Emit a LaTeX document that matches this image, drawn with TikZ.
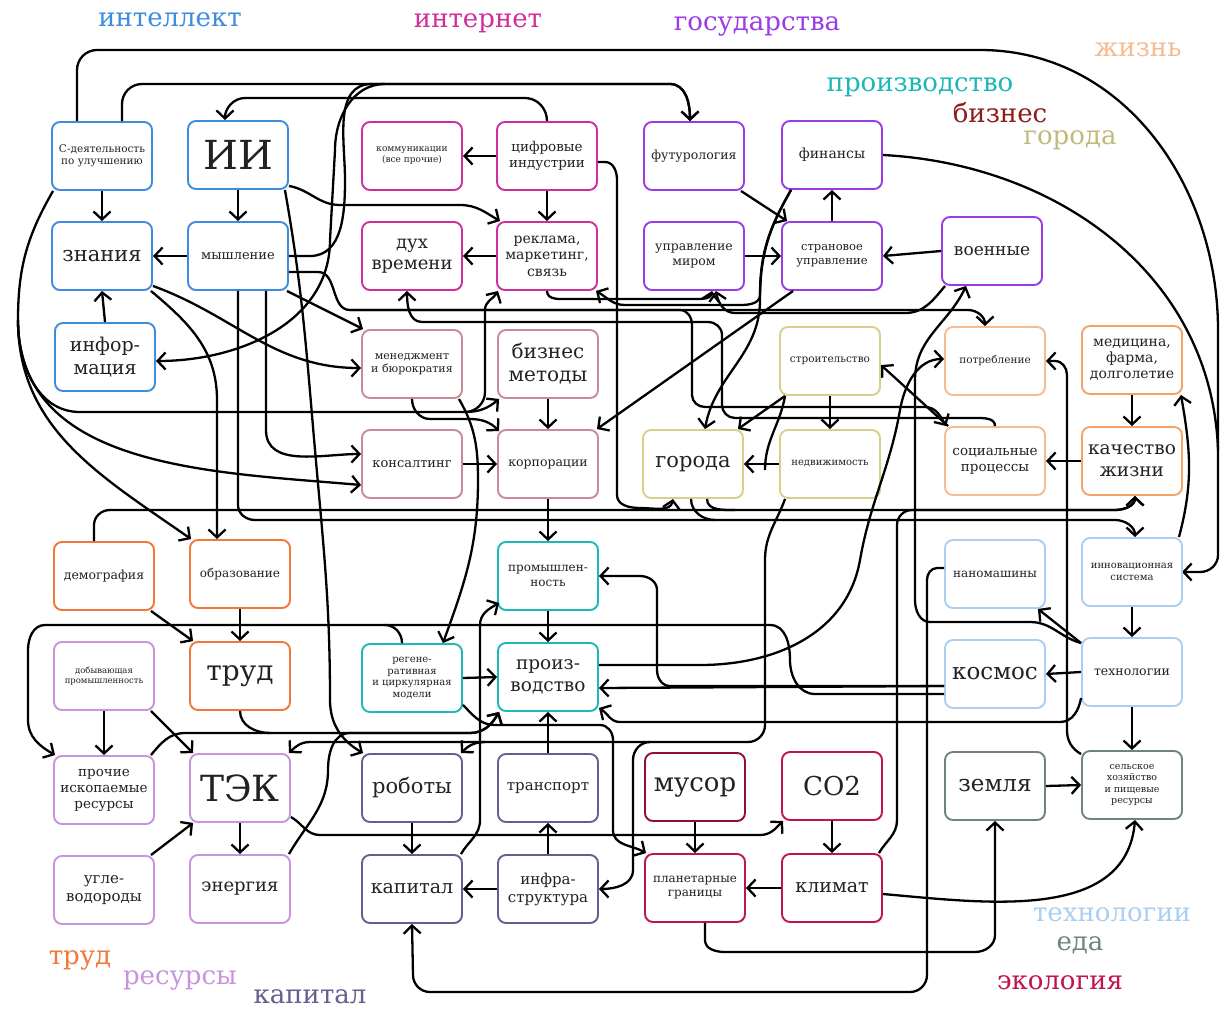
\documentclass[tikz,border=0pt]{standalone}
\usepackage{fontspec}
\setmainfont{DejaVu Serif}
\usetikzlibrary{arrows.meta}
\definecolor{blueI}{HTML}{3C8DDE}
\definecolor{mag}{HTML}{D02E9E}
\definecolor{purp}{HTML}{9A3BE6}
\definecolor{lifel}{HTML}{F5BC92}
\definecolor{lifed}{HTML}{F2A468}
\definecolor{tealc}{HTML}{1CB8B8}
\definecolor{bizc}{HTML}{C98A95}
\definecolor{bizt}{HTML}{8E1B1B}
\definecolor{khaki}{HTML}{D8CF8A}
\definecolor{techc}{HTML}{AACFF0}
\definecolor{foodc}{HTML}{6F8577}
\definecolor{ecoc}{HTML}{C0144A}
\definecolor{ecod}{HTML}{8E1035}
\definecolor{trudc}{HTML}{F07838}
\definecolor{resc}{HTML}{C894DC}
\definecolor{capc}{HTML}{6A5C8E}
\definecolor{txt}{HTML}{222222}
\newcommand\fz[2]{\fontsize{#1}{#2}\selectfont}
\tikzset{
  box/.style={draw, rounded corners=8pt, minimum width=100pt, minimum height=68pt, align=center, line width=1.9pt, text=txt, inner sep=1pt, fill=white},
  lbl/.style={font=\fz{26}{28}, inner sep=0pt},
  cn/.style={line width=2.3pt, black},
  ar/.style={cn, -{Straight Barb[length=8pt,width=17pt]}}
}
\begin{document}
\begin{tikzpicture}[x=1pt,y=-1pt]
\fill[white] (0,0) rectangle (1223,1010);
\useasboundingbox (0,0) rectangle (1223,1010);
% ---------- category labels
\node[lbl,text=blueI] (Lint) at (170,20) {интеллект};
\node[lbl,text=mag] (Lnet) at (478,23) {интернет};
\node[lbl,text=purp] (Lgos) at (757,26) {государства};
\node[lbl,text=lifel] (Lzh) at (1138,50) {жизнь};
\node[lbl,text=tealc] (Lpr) at (920,87) {производство};
\node[lbl,text=bizt] (Lbiz) at (1000,113) {бизнес};
\node[lbl,text=khaki!90!black] (Lgor) at (1070,140) {города};
\node[lbl,text=techc] (Ltech) at (1112,915) {технологии};
\node[lbl,text=foodc] (Leda) at (1080,945) {еда};
\node[lbl,text=ecoc] (Leco) at (1060,983) {экология};
\node[lbl,text=trudc] (Ltrud) at (80,960) {труд};
\node[lbl,text=resc] (Lres) at (180,980) {ресурсы};
\node[lbl,text=capc] (Lcap) at (310,997) {капитал};
% ---------- connectors first (boxes drawn on top later)
\begin{scope}
% top loops
\draw[ar] (77,122) -- (77,70) to[out=90,in=180] (97,50) -- (980,50) to[out=0,in=90] (1218,330) -- (1218,555) to[out=-90,in=0] (1200,572) -- (1182,572);
\end{scope}
% ---------- boxes
\node[box,draw=blueI,font=\fz{10.5}{12}] (sd) at (102,156) {С-деятельность\\по улучшению};
\node[box,draw=blueI,font=\fz{40}{42}] (ii) at (238,155) {ИИ};
\node[box,draw=mag,font=\fz{9}{11}] (komm) at (412,156) {коммуникации\\(все прочие)};
\node[box,draw=mag,font=\fz{13.5}{15.5}] (cifr) at (547,156) {цифровые\\индустрии};
\node[box,draw=purp,font=\fz{12.5}{14}] (futu) at (694,156) {футурология};
\node[box,draw=purp,font=\fz{14}{16}] (fin) at (832,155) {финансы};
\node[box,draw=blueI,font=\fz{21}{23}] (zn) at (102,256) {знания};
\node[box,draw=blueI,font=\fz{13}{15}] (mysh) at (238,256) {мышление};
\node[box,draw=mag,font=\fz{18}{21}] (duh) at (412,256) {дух\\времени};
\node[box,draw=mag,font=\fz{14}{16.5}] (rekl) at (547,256) {реклама,\\маркетинг,\\связь};
\node[box,draw=purp,font=\fz{12.5}{15}] (upr) at (694,256) {управление\\миром};
\node[box,draw=purp,font=\fz{11.5}{14}] (stran) at (832,256) {страновое\\управление};
\node[box,draw=purp,font=\fz{17}{19}] (voen) at (992,251) {военные};
\node[box,draw=blueI,font=\fz{19}{23}] (inf) at (105,357) {инфор-\\мация};
\node[box,draw=bizc,font=\fz{11}{13}] (men) at (412,364) {менеджмент\\и бюрократия};
\node[box,draw=bizc,font=\fz{20}{23}] (biz) at (548,364) {бизнес\\методы};
\node[box,draw=khaki,font=\fz{10.5}{12}] (stroi) at (830,361) {строительство};
\node[box,draw=lifel,font=\fz{10.5}{12}] (potr) at (995,361) {потребление};
\node[box,draw=lifed,font=\fz{14}{16}] (med) at (1132,360) {медицина,\\фарма,\\долголетие};
\node[box,draw=bizc,font=\fz{13}{15}] (kons) at (412,464) {консалтинг};
\node[box,draw=bizc,font=\fz{12.5}{14}] (korp) at (548,464) {корпорации};
\node[box,draw=khaki,font=\fz{21}{23}] (gor) at (693,464) {города};
\node[box,draw=khaki,font=\fz{10}{12}] (nedv) at (830,464) {недвижимость};
\node[box,draw=lifel,font=\fz{13.5}{16}] (soc) at (995,461) {социальные\\процессы};
\node[box,draw=lifed,font=\fz{18.5}{22}] (kach) at (1132,461) {качество\\жизни};
\node[box,draw=trudc,font=\fz{12.5}{14}] (demo) at (104,576) {демография};
\node[box,draw=trudc,font=\fz{12}{14}] (obr) at (240,574) {образование};
\node[box,draw=tealc,font=\fz{12}{14.5}] (prom) at (548,576) {промышлен-\\ность};
\node[box,draw=techc,font=\fz{12}{14}] (nano) at (995,574) {наномашины};
\node[box,draw=techc,font=\fz{10}{12.5}] (innov) at (1132,572) {инновационная\\система};
\node[box,draw=resc,font=\fz{8.5}{10.5}] (dob) at (104,676) {добывающая\\промышленность};
\node[box,draw=trudc,font=\fz{28}{30}] (trud) at (240,676) {труд};
\node[box,draw=tealc,font=\fz{10}{11.5}] (reg) at (412,678) {регене-\\ративная\\и циркулярная\\модели};
\node[box,draw=tealc,font=\fz{18.5}{22}] (proizv) at (548,677) {произ-\\водство};
\node[box,draw=techc,font=\fz{23}{25}] (kosm) at (995,674) {космос};
\node[box,draw=techc,font=\fz{12.5}{14}] (tech) at (1132,672) {технологии};
\node[box,draw=resc,font=\fz{13.5}{16}] (proch) at (104,790) {прочие\\ископаемые\\ресурсы};
\node[box,draw=resc,font=\fz{36}{38}] (tek) at (240,788) {ТЭК};
\node[box,draw=capc,font=\fz{21}{23}] (rob) at (412,788) {роботы};
\node[box,draw=capc,font=\fz{15}{17}] (trans) at (548,788) {транспорт};
\node[box,draw=ecod,font=\fz{26}{28}] (mus) at (695,787) {мусор};
\node[box,draw=ecoc,font=\fz{26}{28}] (co2) at (832,786) {CO2};
\node[box,draw=foodc,font=\fz{23}{25}] (zem) at (995,786) {земля};
\node[box,draw=foodc,font=\fz{9.5}{11.5}] (selh) at (1132,785) {сельское\\хозяйство\\и пищевые\\ресурсы};
\node[box,draw=resc,font=\fz{15}{18}] (ugl) at (104,890) {угле-\\водороды};
\node[box,draw=resc,font=\fz{18}{20}] (ener) at (240,889) {энергия};
\node[box,draw=capc,font=\fz{19}{21}] (kap) at (412,889) {капитал};
\node[box,draw=capc,font=\fz{15}{18}] (infra) at (548,889) {инфра-\\структура};
\node[box,draw=ecoc,font=\fz{12}{14}] (plan) at (695,888) {планетарные\\границы};
\node[box,draw=ecoc,font=\fz{19}{21}] (klim) at (832,888) {климат};
% ---------- straight connectors
\draw[ar] (sd.south) -- (zn.north);
\draw[ar] (ii.south) -- (mysh.north);
\draw[ar] (mysh.west) -- (zn.east);
\draw[ar] (inf.north) -- (zn.south);
\draw[ar] (cifr.west) -- (komm.east);
\draw[ar] (cifr.south) -- (rekl.north);
\draw[ar] (rekl.west) -- (duh.east);
\draw[ar] (stran.north) -- (fin.south);
\draw[ar] (voen.west) -- (stran.east);
\draw[ar] (upr.east) -- (stran.west);
\draw[ar] ([xshift=-4]futu.south east) -- ([xshift=6]stran.north west);
\draw[ar] ([xshift=12]stran.south west) -- ([xshift=-2]korp.north east);
\draw[ar] (tech.west) -- (kosm.east);
\draw[ar] (innov.south) -- (tech.north);
\draw[ar] (med.south) -- (kach.north);
\draw[ar] (kach.west) -- (soc.east);
\draw[ar] (tech.south) -- (selh.north);
\draw[ar] (zem.east) -- (selh.west);
\draw[ar] (klim.west) -- (plan.east);
\draw[ar] (co2.south) -- (klim.north);
\draw[ar] (mus.south) -- (plan.north);
\draw[ar] (infra.north) -- (trans.south);
\draw[ar] (trans.north) -- (proizv.south);
\draw[ar] (infra.west) -- (kap.east);
\draw[ar] (rob.south) -- (kap.north);
\draw[ar] (prom.south) -- (proizv.north);
\draw[ar] (korp.south) -- (prom.north);
\draw[ar] (biz.south) -- (korp.north);
\draw[ar] (kons.east) -- (korp.west);
\draw[ar] (reg.east) -- (proizv.west);
\draw[ar] ([xshift=-4]demo.south east) -- ([xshift=4]trud.north west);
\draw[ar] (obr.south) -- (trud.north);
\draw[ar] (dob.south) -- (proch.north);
\draw[ar] ([xshift=-4]dob.south east) -- ([xshift=4]tek.north west);
\draw[ar] ([xshift=-4]ugl.north east) -- ([xshift=4]tek.south west);
\draw[ar] (tek.south) -- (ener.north);
\draw[ar] (nedv.west) -- (gor.east);
\draw[ar] (stroi.south) -- (nedv.north);
\draw[ar] ([xshift=6]stroi.south west) -- ([xshift=-6]gor.north east);
\draw[ar] ([xshift=4]soc.north west) -- ([yshift=-4]stroi.east);
\draw[ar] ([xshift=-2]mysh.south east) -- ([xshift=2]men.north west);
\draw[ar] ([yshift=-6]tech.north west) -- ([xshift=-8]nano.south east);
% ---------- curved connectors
\draw[cn] (fin.east) to[out=-3,in=92] (1218,450);
\draw[cn] ([xshift=-25]sd.north) -- (77,115);
\draw[ar] ([xshift=20]sd.north) -- (122,104) to[out=90,in=180] (142,84) -- (670,84) to[out=0,in=90] ([xshift=-4]futu.north);
\draw[ar] (mysh.east) -- (310,256) to[out=0,in=-90] (345,180) to[out=90,in=180] (372,84) -- (670,84) to[out=0,in=90] ([xshift=-4]futu.north);
\coordinate (j1) at (385,84);
\draw[ar] (j1) to[out=180,in=90] (335,150) -- (330,240) to[out=-90,in=0] ([yshift=-4]inf.east);
\draw[ar] (cifr.north) to[out=90,in=0] (525,98) -- (245,98) to[out=180,in=90] ([xshift=-13]ii.north);
\draw[ar] ([yshift=4]ii.south east) to[out=-10,in=180] (340,205) -- (460,205) to[out=0,in=150] ([xshift=4]rekl.north west);
% finance / government
\draw[ar] ([xshift=10]fin.south west) to[out=-120,in=90] (760,300) to[out=-90,in=80] ([xshift=12]gor.north);
\draw[ar] ([xshift=10]fin.south west) to[out=-120,in=90] (760,295) to[out=-90,in=0] (740,305) -- (625,305) to[out=180,in=-30] ([xshift=-2]rekl.south east);
\draw[ar] ([xshift=4]voen.south west) to[out=-130,in=0] (905,313) -- (735,313) to[out=180,in=-80] ([xshift=22]upr.south);
\draw[ar] (rekl.south) to[out=-90,in=180] (570,299) -- (690,299) to[out=0,in=-100] ([xshift=18]upr.south);
\draw[ar] ([yshift=-6]tech.north west) to[out=165,in=0] (1030,622) -- (930,622) to[out=180,in=-90] (915,600) -- (915,380) to[out=90,in=-115] ([xshift=-26]voen.south);
% thinking / knowledge lines
\draw[ar] ([yshift=-16]mysh.east) -- (318,272) to[out=0,in=180] (350,310) -- (968,310) to[out=0,in=90] ([xshift=-10]potr.north);
\draw[ar] (350,310) -- (680,310) to[out=0,in=90] (692,325) -- (692,395) to[out=-90,in=180] (705,407) -- (925,407) to[out=0,in=120] ([xshift=2]soc.north west);
\draw[ar] (soc.north) to[out=90,in=0] (975,418) -- (735,418) to[out=180,in=-90] (722,405) -- (722,335) to[out=90,in=0] (708,322) -- (422,322) to[out=180,in=-90] ([xshift=-5]duh.south);
\draw[ar] ([xshift=28]mysh.south) -- (266,430) to[out=-90,in=180] ([yshift=10]kons.west);
\draw[ar] ([xshift=-2]zn.south east) to[out=-40,in=90] (217,400) -- ([xshift=-23]obr.north);
\draw[ar] ([yshift=5]zn.south east) to[out=-20,in=180] ([yshift=-4]men.west);
\draw[ar] ([xshift=-4]ii.south east) to[out=-80,in=95] (315,450) to[out=-85,in=90] (330,700) to[out=-90,in=150] ([xshift=2]rob.north west);
\draw[ar] (mysh.south) -- (238,505) to[out=-90,in=180] (255,520) -- (1115,520) to[out=0,in=90] ([xshift=3]innov.north);
\draw[cn] ([xshift=-2]gor.south) to[out=-90,in=180] (715,520);
% left long curves from sd
\draw[ar] ([xshift=2]sd.south west) to[out=-120,in=90] (18,320) to[out=-90,in=175] ([yshift=-21]kons.west);
\draw[ar] (18,320) to[out=-90,in=145] ([xshift=2]obr.north west);
\draw[ar] (18,320) to[out=-90,in=180] (80,412) -- (465,412) to[out=0,in=-140] ([xshift=2]biz.south west);
\draw[ar] (465,412) to[out=0,in=-90] (485,392) -- (485,310) to[out=90,in=-120] ([xshift=2]rekl.south west);
% business
\draw[ar] ([xshift=-4]men.south east) to[out=-60,in=90] (478,480) to[out=-90,in=70] ([xshift=-20]reg.north east);
\draw[ar] (men.south) to[out=-90,in=180] (430,419) -- (470,419) to[out=0,in=135] ([xshift=2,yshift=-2]korp.north west);
\draw[ar] ([yshift=-6]cifr.east) -- (605,162) to[out=0,in=90] (617,180) -- (617,495) to[out=-90,in=180] (640,508) to[out=0,in=-100] ([xshift=-20]gor.south);
% life
\draw[ar] ([xshift=-4]innov.north east) to[out=75,in=-80] ([xshift=-2]med.south east);
\draw[ar] ([xshift=-4]klim.north east) to[out=60,in=-90] (897,820) -- (897,525) to[out=90,in=180] (912,510) -- (1115,510) to[out=0,in=-90] ([xshift=3]kach.south);
\draw[ar] ([xshift=-10]demo.north) -- (94,525) to[out=90,in=180] (110,510) -- (1115,510) to[out=0,in=-90] ([xshift=3]kach.south);
\draw[cn] ([xshift=14]gor.south) to[out=-90,in=180] (735,510);
\draw[ar] ([yshift=-4]selh.north west) to[out=150,in=-90] (1067,730) -- (1067,375) to[out=90,in=0] (1055,361) -- (potr.east);
\draw[ar] ([yshift=12]proizv.east) -- (700,665) to[out=0,in=-100] (860,560) to[out=80,in=-100] (900,410) to[out=80,in=180] ([yshift=2]potr.west);
% production
\draw[ar] ([yshift=-12]kosm.west) -- ([yshift=-11]proizv.east);
\draw[ar] ([yshift=-12]kosm.west) -- (670,686) to[out=180,in=-90] (657,670) -- (657,590) to[out=90,in=0] (640,576) -- (prom.east);
\draw[ar] ([yshift=-20]kosm.west) -- (815,694) to[out=180,in=-90] (790,660) to[out=90,in=0] (770,625) -- (45,625) to[out=180,in=90] (28,650) -- (28,720) to[out=-90,in=150] ([xshift=2]proch.north west);
\draw[cn] ([xshift=-10]reg.north) to[out=90,in=0] (385,625);
\draw[ar] ([yshift=-26]tech.west) to[out=-100,in=0] (1060,722) -- (620,722) to[out=180,in=-30] ([yshift=4]proizv.south east);
\draw[ar] ([xshift=-2]ener.north east) to[out=60,in=-90] (328,770) to[out=90,in=180] (350,733) -- (470,733) to[out=0,in=-120] ([xshift=2]proizv.south west);
\draw[ar] ([xshift=-4]proch.north east) to[out=50,in=180] (185,733) -- (470,733) to[out=0,in=-120] ([xshift=2]proizv.south west);
\draw[cn] (trud.south) to[out=-90,in=180] (270,733);
\draw[ar] ([yshift=8]reg.south east) to[out=-45,in=180] (495,725) -- (600,725) to[out=0,in=90] (613,740) -- (613,830) to[out=-90,in=150] ([xshift=2]plan.north west);
\draw[ar] ([xshift=-2]kap.north east) to[out=60,in=-90] (480,820) -- (480,625) to[out=90,in=-150] ([xshift=2,yshift=8]prom.south west);
% construction trunk
\draw[cn] ([xshift=6]stroi.south west) to[out=-100,in=90] (765,470);
\draw[ar] ([xshift=6]nedv.south west) to[out=-110,in=90] (765,560) -- (765,725) to[out=-90,in=0] (748,742) -- (310,742) to[out=180,in=45] ([xshift=-2]tek.north east);
\draw[ar] (485,742) to[out=180,in=45] ([xshift=-2]rob.north east);
\draw[ar] (650,742) to[out=180,in=90] (633,760) -- (633,870) to[out=-90,in=0] (infra.east);
% energy / ecology
\draw[ar] ([yshift=6]tek.south east) to[out=-30,in=180] (320,835) -- (760,835) to[out=0,in=-135] ([xshift=2]co2.south west);
\draw[ar] ([yshift=-6]klim.east) to[out=-5,in=-95] ([xshift=3]selh.south);
\draw[ar] ([xshift=10]plan.south) -- (705,940) to[out=-90,in=180] (725,952) -- (975,952) to[out=0,in=-90] (995,935) -- (zem.south);
\draw[ar] ([yshift=6]nano.west) -- (937,568) to[out=180,in=90] (927,580) -- (927,975) to[out=-90,in=0] (910,992) -- (430,992) to[out=180,in=-90] (413,975) -- (kap.south);
\end{tikzpicture}
\end{document}
